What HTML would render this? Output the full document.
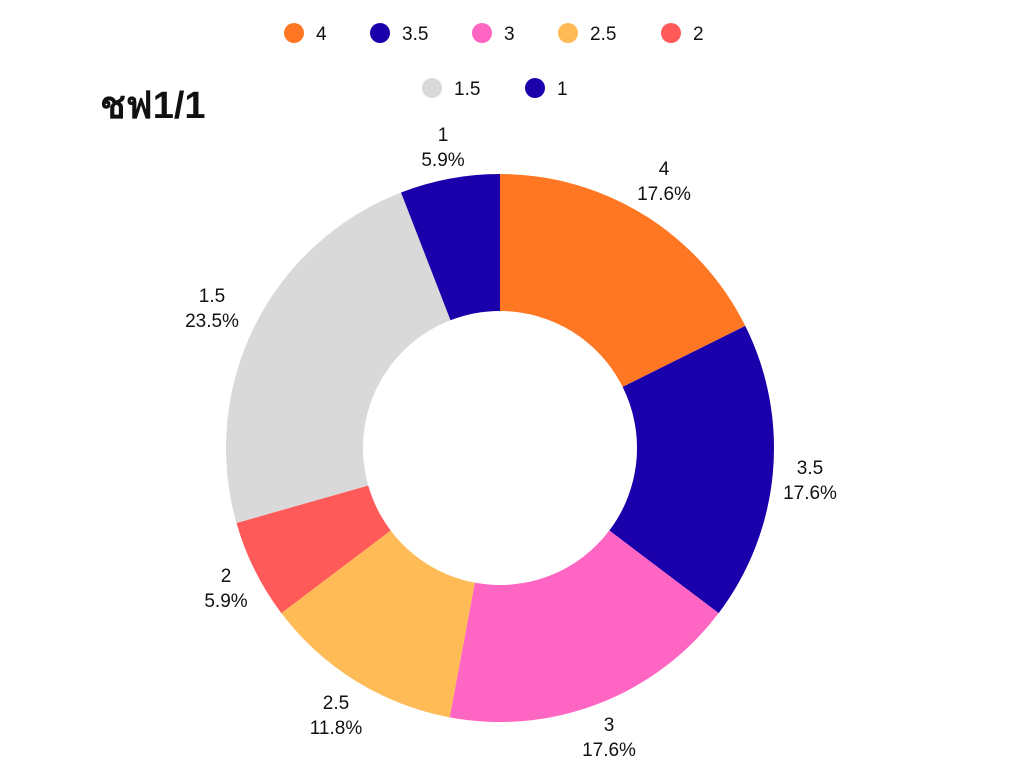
<!DOCTYPE html>
<html><head><meta charset="utf-8"><style>
html,body{margin:0;padding:0;background:#fff;}
svg text{font-family:"Liberation Sans",sans-serif;fill:#111;}
</style></head><body>
<svg id="s" width="1024" height="768" xmlns="http://www.w3.org/2000/svg">
<text x="100" y="118" font-size="38" font-weight="bold" style="font-family:'Liberation Sans','DejaVu Sans',sans-serif">ชฟ1/1</text>
<g font-size="19">
<circle cx="294" cy="33" r="10" fill="#ff7722"/><text x="316" y="40">4</text>
<circle cx="380" cy="33" r="10" fill="#1a00aa"/><text x="402" y="40">3.5</text>
<circle cx="482" cy="33" r="10" fill="#ff66c4"/><text x="504" y="40">3</text>
<circle cx="568" cy="33" r="10" fill="#ffbb55"/><text x="590" y="40">2.5</text>
<circle cx="671" cy="33" r="10" fill="#ff5a5a"/><text x="693" y="40">2</text>
<circle cx="432" cy="88" r="10" fill="#d9d9d9"/><text x="454" y="95">1.5</text>
<circle cx="535" cy="88" r="10" fill="#1a00aa"/><text x="557" y="95">1</text>
</g>
<g id="pie"></g>
<g font-size="19" text-anchor="middle">
<text x="664" y="175">4</text><text x="664" y="200">17.6%</text>
<text x="810" y="474">3.5</text><text x="810" y="499">17.6%</text>
<text x="609" y="731">3</text><text x="609" y="756">17.6%</text>
<text x="336" y="709">2.5</text><text x="336" y="734">11.8%</text>
<text x="226" y="582">2</text><text x="226" y="607">5.9%</text>
<text x="212" y="302">1.5</text><text x="212" y="327">23.5%</text>
<text x="443" y="141">1</text><text x="443" y="166">5.9%</text>
</g>
</svg>
<script>
var cx=500,cy=448,R=274,r=137;
var d=[[3,"#ff7722"],[3,"#1a00aa"],[3,"#ff66c4"],[2,"#ffbb55"],[1,"#ff5a5a"],[4,"#d9d9d9"],[1,"#1a00aa"]];
var a=0,g=document.getElementById("pie"),h="";
function p(rad,ang){return (cx+rad*Math.sin(ang)).toFixed(2)+","+(cy-rad*Math.cos(ang)).toFixed(2);}
d.forEach(function(s){var a0=a/17*2*Math.PI;a+=s[0];var a1=a/17*2*Math.PI;var l=(a1-a0)>Math.PI?1:0;
h+='<path fill="'+s[1]+'" d="M'+p(R,a0)+' A'+R+','+R+' 0 '+l+' 1 '+p(R,a1)+' L'+p(r,a1)+' A'+r+','+r+' 0 '+l+' 0 '+p(r,a0)+' Z"/>';});
g.innerHTML=h;
</script>
</body></html>
